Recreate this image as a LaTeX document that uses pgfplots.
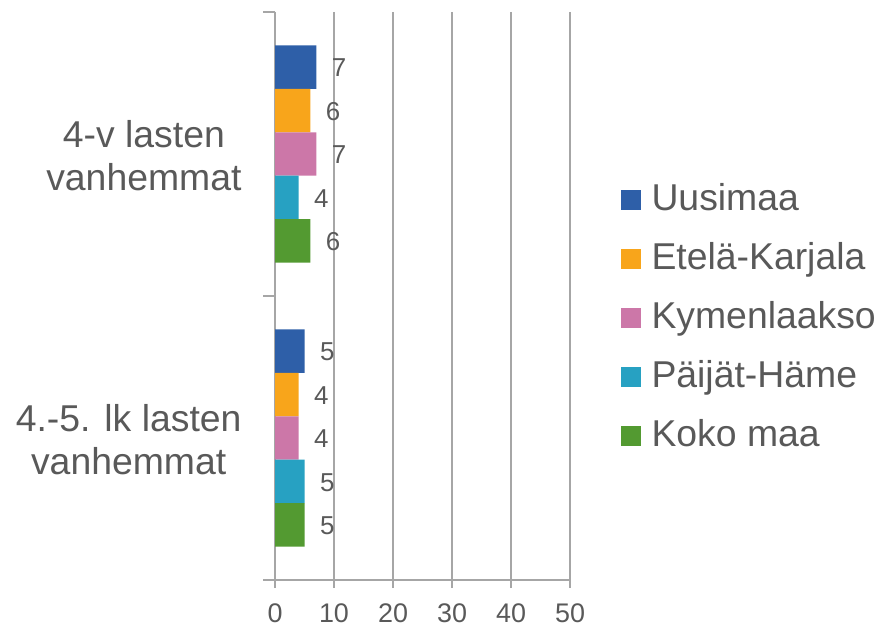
\documentclass[border=0pt]{standalone}
\usepackage{pgfplots}
\pgfplotsset{compat=1.18}
\usepackage{fontspec}
\setmainfont{Liberation Sans}
\definecolor{cU}{HTML}{2E5FA8}
\definecolor{cE}{HTML}{F8A51B}
\definecolor{cK}{HTML}{CC77A8}
\definecolor{cP}{HTML}{27A1C2}
\definecolor{cM}{HTML}{539A31}
\definecolor{txt}{HTML}{595959}
\definecolor{gridc}{HTML}{A6A6A6}
\begin{document}
\begin{tikzpicture}[x=1bp,y=1bp]
\path[use as bounding box] (0,0) rectangle (882,624);
\begin{axis}[
  at={(275bp,44bp)}, anchor=south west,
  scale only axis, width=295bp, height=568bp,
  xbar, bar width=0.153,
  xmin=0, xmax=50, ymin=0, ymax=2, y dir=reverse,
  axis x line*=bottom, axis y line*=left,
  axis line style={gridc, line width=1.5bp, -},
  xtick={0,10,20,30,40,50},
  xmajorgrids, grid style={gridc, line width=1.5bp},
  tick align=outside,
  major tick length=8bp, minor tick length=12bp,
  tick style={gridc, line width=1.5bp},
  every major y tick/.style={draw=none},
  ytick={0.5,1.5},
  minor ytick={0,1,2},
  yticklabels={{4-v lasten\\vanhemmat},{4.-5. lk lasten\\vanhemmat}},
  yticklabel style={align=center, font=\fontsize{37.5}{43}\selectfont, text=txt, xshift=-22bp, yshift=-2bp},
  /pgf/number format/assume math mode=true,
  xticklabel style={font=\fontsize{27}{30}\selectfont, text=txt, yshift=-12bp},
  nodes near coords,
  every node near coord/.append style={anchor=west, xshift=12bp, yshift=-1bp, font=\fontsize{26}{30}\selectfont, text=txt},
  legend cell align=left,
  legend image code/.code={\fill[#1,draw=none] (0bp,-10bp) rectangle (20bp,10bp);},
  legend style={draw=none, fill=none, inner sep=0pt, at={(1.1705,0.462)}, anchor=west,
    font=\fontsize{37.5}{40}\selectfont, text=txt, row sep=20bp, column sep=11bp,
    nodes={inner sep=0pt, text height=30bp, text depth=9bp}},
]
\addplot+[fill=cU, draw=none, bar shift=-0.306] coordinates {(7,0.5) (5,1.5)};
\addplot+[fill=cE, draw=none, bar shift=-0.153] coordinates {(6,0.5) (4,1.5)};
\addplot+[fill=cK, draw=none, bar shift=0] coordinates {(7,0.5) (4,1.5)};
\addplot+[fill=cP, draw=none, bar shift=0.153] coordinates {(4,0.5) (5,1.5)};
\addplot+[fill=cM, draw=none, bar shift=0.306] coordinates {(6,0.5) (5,1.5)};
\legend{Uusimaa, Etelä-Karjala, Kymenlaakso, Päijät-Häme, Koko maa}
\end{axis}
\end{tikzpicture}
\end{document}
